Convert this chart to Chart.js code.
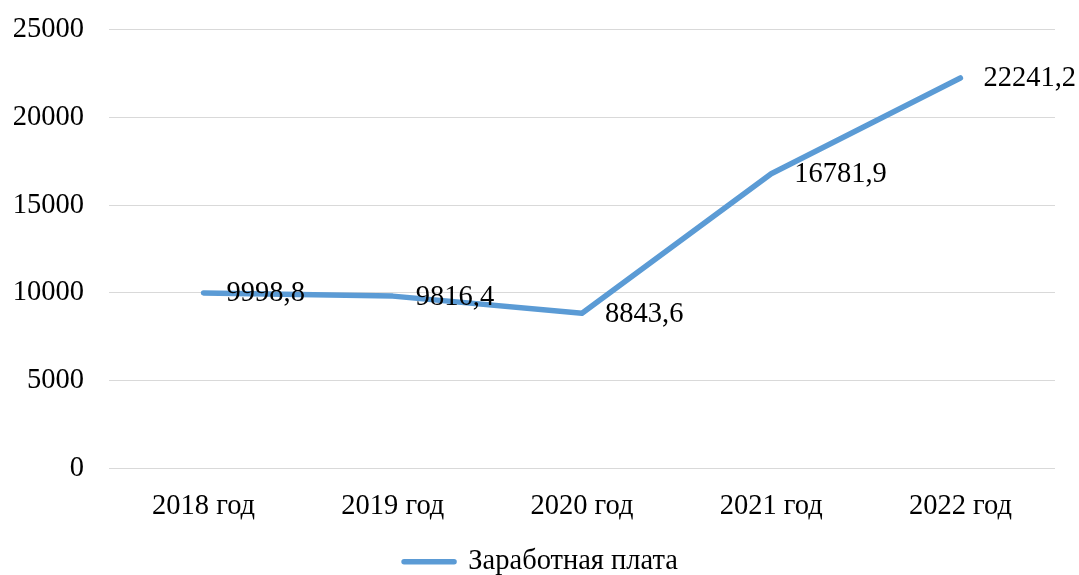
<!DOCTYPE html>
<html>
<head>
<meta charset="utf-8">
<script src="https://cdn.jsdelivr.net/npm/chart.js@4/dist/chart.umd.min.js"></script>
<style>
  html, body { margin: 0; padding: 0; background: #ffffff; }
  #wrap { width: 1079px; height: 575px; }
</style>
</head>
<body>
<div id="wrap"><canvas id="chart" width="1079" height="575"></canvas></div>
<script>
// chart data
const years = ["2018 год", "2019 год", "2020 год", "2021 год", "2022 год"];
const salary = [9998.8, 9816.4, 8843.6, 16781.9, 22241.2];
const seriesName = "Заработная плата";
const yTicks = [0, 5000, 10000, 15000, 20000, 25000];

const FONT = "'Liberation Serif', 'Times New Roman', serif";
const FONT_SIZE = 28.5;
const LINE_COLOR = "#5b9bd5";

// value labels to the right of each point, comma as decimal separator
const valueLabels = {
    id: "valueLabels",
    afterDatasetsDraw(chart) {
        let ctx = chart.ctx;
        let meta = chart.getDatasetMeta(0);
        let values = chart.data.datasets[0].data;
        ctx.save();
        ctx.font = FONT_SIZE + "px " + FONT;
        ctx.fillStyle = "#000000";
        ctx.textAlign = "left";
        ctx.textBaseline = "middle";
        meta.data.forEach((pt, i) => {
            let text = values[i].toFixed(1).replace(".", ",");
            ctx.fillText(text, pt.x + 23, pt.y + 1);
        });
        ctx.restore();
    }
};

// the legend sits a bit right of the canvas centre in the original
const legendShift = {
    id: "legendShift",
    afterLayout(chart) {
        chart.legend.left += 13.5;
        chart.legend.right += 13.5;
    }
};

new Chart(document.getElementById("chart").getContext("2d"), {
    type: "line",
    data: {
        labels: years,
        datasets: [{
            label: seriesName,
            data: salary,
            borderColor: LINE_COLOR,
            backgroundColor: LINE_COLOR,
            borderWidth: 5.5,
            borderCapStyle: "round",
            borderJoinStyle: "round",
            pointRadius: 0,
            pointHoverRadius: 0,
            tension: 0,
            fill: false
        }]
    },
    options: {
        responsive: false,
        animation: false,
        events: [],
        layout: { padding: { left: 0, right: 24, top: 29.5, bottom: -11 } },
        plugins: {
            tooltip: { enabled: false },
            legend: {
                position: "bottom",
                labels: {
                    color: "#000000",
                    font: { family: FONT, size: FONT_SIZE },
                    usePointStyle: true,
                    pointStyleWidth: 50,
                    padding: 0,
                    generateLabels(chart) {
                        let ds = chart.data.datasets[0];
                        return [{
                            text: ds.label,
                            pointStyle: "line",
                            strokeStyle: LINE_COLOR,
                            fillStyle: LINE_COLOR,
                            lineWidth: 5.5,
                            lineCap: "round",
                            fontColor: "#000000",
                            datasetIndex: 0
                        }];
                    }
                }
            }
        },
        scales: {
            x: {
                offset: true,
                grid: { display: false, drawTicks: false },
                border: { display: false },
                ticks: {
                    color: "#000000",
                    font: { family: FONT, size: FONT_SIZE },
                    padding: 21,
                    maxRotation: 0
                },
                afterFit(scale) { scale.height = 79; }
            },
            y: {
                min: 0,
                max: 25000,
                afterBuildTicks(scale) { scale.ticks = yTicks.map(v => ({ value: v })); },
                grid: { color: "#d9d9d9", lineWidth: 1, drawTicks: false },
                border: { display: false },
                ticks: {
                    color: "#000000",
                    font: { family: FONT, size: FONT_SIZE },
                    padding: 25,
                    callback: (v) => String(v)
                },
                afterFit(scale) {
                    scale.width = 109;
                    scale.paddingTop = 0;
                    scale.paddingBottom = 0;
                }
            }
        }
    },
    plugins: [valueLabels, legendShift]
});
</script>
</body>
</html>
